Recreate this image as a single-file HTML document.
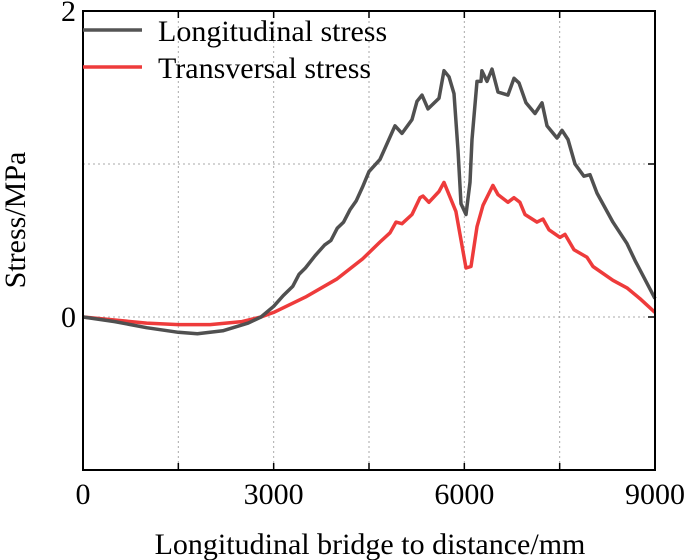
<!DOCTYPE html>
<html><head><meta charset="utf-8"><style>
body{margin:0;background:#fff;}
svg{display:block;font-family:"Liberation Serif",serif;}
</style></head><body>
<svg id="chart" width="685" height="560" viewBox="0 0 685 560" xmlns="http://www.w3.org/2000/svg">
<g id="grid"></g>
<g id="series"></g>
<rect x="83" y="11" width="572" height="459" fill="none" stroke="#000" stroke-width="2"/>
<g id="ticks"></g>
<g>
<line x1="83" y1="30" x2="142" y2="30" stroke="#555" stroke-width="3.5"/>
<text x="158" y="41" font-size="30">Longitudinal stress</text>
<line x1="83" y1="67" x2="142" y2="67" stroke="#ee3b3b" stroke-width="3.5"/>
<text x="158" y="78" font-size="30">Transversal stress</text>
</g>
<text transform="translate(25,220) rotate(-90)" text-anchor="middle" font-size="30">Stress/MPa</text>
<text x="370" y="554" text-anchor="middle" font-size="30">Longitudinal bridge to distance/mm</text>
</svg>
<script>
const longX=[0,500,1000,1500,1800,2200,2600,2800,3000,3150,3300,3400,3500,3650,3800,3900,4000,4100,4200,4300,4400,4500,4673,4909,5019,5176,5255,5334,5428,5601,5680,5758,5837,5900,5947,6026,6089,6120,6199,6262,6277,6356,6435,6529,6686,6781,6860,6970,7112,7222,7300,7458,7537,7631,7741,7882,7977,8087,8338,8559,8685,9000];
const longY=[0,-0.03,-0.07,-0.1,-0.11,-0.09,-0.04,0,0.07,0.14,0.2,0.28,0.32,0.4,0.47,0.5,0.58,0.62,0.7,0.76,0.85,0.95,1.03,1.25,1.2,1.29,1.41,1.45,1.36,1.43,1.61,1.57,1.46,1.09,0.74,0.67,0.88,1.16,1.54,1.54,1.61,1.54,1.62,1.47,1.45,1.56,1.53,1.40,1.33,1.40,1.25,1.17,1.22,1.16,1.0,0.92,0.93,0.81,0.62,0.48,0.37,0.12];
const transX=[0,1000,1500,2000,2500,2800,3000,3500,4000,4400,4673,4830,4925,5019,5176,5302,5350,5443,5601,5680,5868,6026,6105,6199,6293,6450,6529,6686,6781,6875,6955,7143,7237,7332,7505,7584,7726,7930,8024,8338,8559,8763,9000];
const transY=[0,-0.04,-0.05,-0.05,-0.03,0,0.03,0.13,0.25,0.38,0.49,0.55,0.62,0.61,0.67,0.78,0.79,0.75,0.82,0.88,0.69,0.32,0.33,0.59,0.73,0.86,0.80,0.75,0.78,0.75,0.67,0.62,0.64,0.57,0.52,0.54,0.44,0.39,0.33,0.24,0.19,0.12,0.03];
const xTicks=[0,3000,6000,9000];
const xGrid=[1500,3000,4500,6000,7500];
const yTickLabels=[0,2];
const yGrid=[0,1];
const NS="http://www.w3.org/2000/svg";
const X0=83,X1=655,Y0=470,Y1=11;
function sx(v){return X0+(v-0)/(9000-0)*(X1-X0);}
function sy(v){return Y0-(v-(-1))/(2-(-1))*(Y0-Y1);}
function mk(t,a,p){const e=document.createElementNS(NS,t);for(const k in a)e.setAttribute(k,a[k]);p.appendChild(e);return e;}
const grid=document.getElementById('grid'),ticks=document.getElementById('ticks'),ser=document.getElementById('series');
xGrid.forEach(v=>{
  const l=mk('line',{x1:sx(v),x2:sx(v),y1:Y1,y2:Y0,stroke:'#aaa','stroke-width':1,'stroke-dasharray':'2,3'},grid);
  
  
  const t1=mk('line',{x1:sx(v),x2:sx(v),y1:Y0,y2:Y0-7,stroke:'#000','stroke-width':1.5},ticks);
  
  
  const t2=mk('line',{x1:sx(v),x2:sx(v),y1:Y1,y2:Y1+7,stroke:'#000','stroke-width':1.5},ticks);
  
  
});
yGrid.forEach(v=>{
  const l=mk('line',{x1:X0,x2:X1,y1:sy(v),y2:sy(v),stroke:'#aaa','stroke-width':1,'stroke-dasharray':'2,3'},grid);
  
  
  const t=mk('line',{x1:X1,x2:X1-7,y1:sy(v),y2:sy(v),stroke:'#000','stroke-width':1.5},ticks);
  
  
});
xTicks.forEach(v=>{
  const t=mk('text',{x:sx(v),y:504,'text-anchor':'middle','font-size':30},ticks);
  t.textContent=v;
  
  
});
yTickLabels.forEach(v=>{
  const t=mk('text',{x:76,y:sy(v)+10,'text-anchor':'end','font-size':30},ticks);
  t.textContent=v;
  
  
});
function line(xs,ys,color,name){
  const d=xs.map((x,i)=>(i?'L':'M')+sx(x).toFixed(1)+','+sy(ys[i]).toFixed(1)).join(' ');
  const p=mk('path',{d:d,fill:'none',stroke:color,'stroke-width':3.5,'stroke-linejoin':'round'},ser);
  
  
}
line(transX,transY,'#ee3b3b','transversal-stress-line');
line(longX,longY,'#505050','longitudinal-stress-line');
</script>
</body></html>
